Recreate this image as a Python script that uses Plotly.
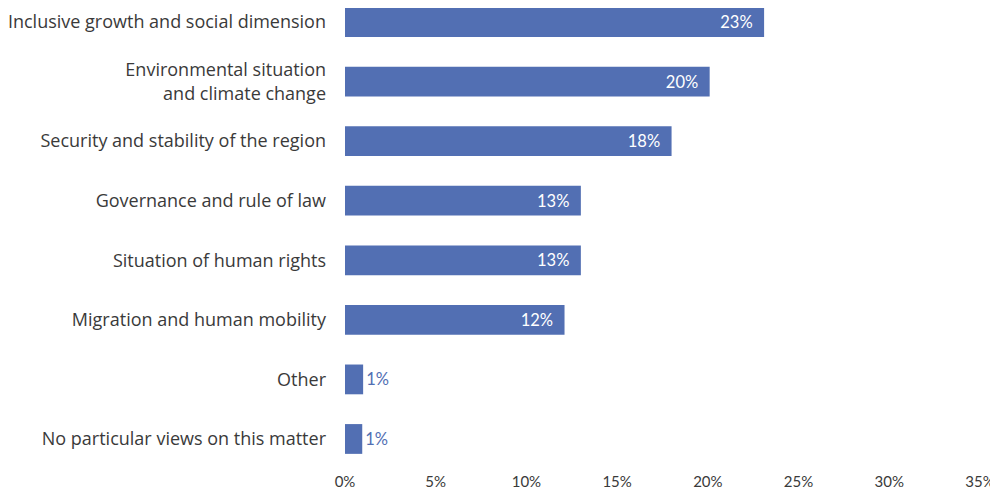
import plotly.graph_objects as go

categories = [
    "Inclusive growth and social dimension",
    "Environmental situation<br>and climate change",
    "Security and stability of the region",
    "Governance and rule of law",
    "Situation of human rights",
    "Migration and human mobility",
    "Other",
    "No particular views on this matter",
]
values = [23.1, 20.1, 18.0, 13.0, 13.0, 12.1, 1.0, 0.95]
labels = ["23%", "20%", "18%", "13%", "13%", "12%", "1%", "1%"]
x_ticks = [0, 5, 10, 15, 20, 25, 30, 35]
x_tick_labels = ["0%", "5%", "10%", "15%", "20%", "25%", "30%", "35%"]

bar_color = "#526fb3"
positions = list(range(len(categories)))
textpos = ["inside" if v > 5 else "outside" for v in values]
texts = [t + "\u00a0\u00a0" if p == "inside" else t for t, p in zip(labels, textpos)]

fig = go.Figure(go.Bar(
    x=values, y=positions, orientation="h",
    marker=dict(color=bar_color, line=dict(width=0)),
    width=0.5,
    text=texts, textposition=textpos,
    insidetextanchor="end",
    insidetextfont=dict(color="white", size=16.5, family="Lato"),
    outsidetextfont=dict(color=bar_color, size=16.5, family="Lato"),
    cliponaxis=False,
    hoverinfo="skip",
))

fig.update_layout(
    width=990, height=482,
    margin=dict(l=337, r=18, t=0, b=35, autoexpand=False),
    plot_bgcolor="white", paper_bgcolor="white",
    showlegend=False,
    font=dict(family="Lato", color="#3a3a3a"),
    bargap=0.5,
)
fig.update_xaxes(
    range=[0, 35], tickvals=x_ticks, ticktext=x_tick_labels,
    showgrid=False, zeroline=False, showline=False,
    tickfont=dict(size=15, color="#3a3a3a"),
    ticklabelstandoff=16, automargin=False,
)
fig.update_yaxes(
    range=[7.269, -0.235], tickvals=positions, ticktext=categories,
    showgrid=False, zeroline=False, showline=False,
    tickfont=dict(size=18, color="#3a3a3a", family="Open Sans"),
    ticklabelstandoff=18, automargin=False,
)

fig.write_html("out.html")
